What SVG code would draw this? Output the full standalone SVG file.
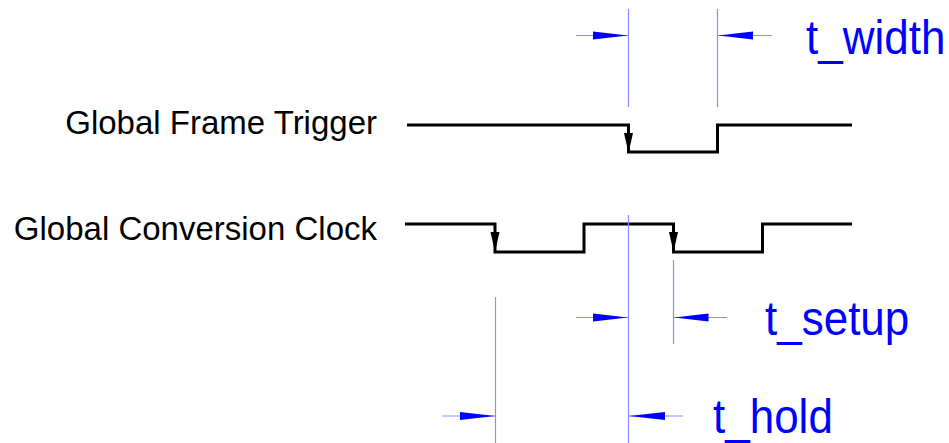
<svg xmlns="http://www.w3.org/2000/svg" width="949" height="443" viewBox="0 0 949 443">
<defs>
<style>
.lbl{font-family:"Liberation Sans",Arial,sans-serif;font-size:33px;fill:#000}
.dim{font-family:"Liberation Sans",Arial,sans-serif;font-size:44px;fill:#0000ff}
.sig{fill:none;stroke:#000;stroke-width:3}
.ext{stroke:#8c8cff;stroke-width:1.2;fill:none}
.ah{fill:#0000ff}
.sh{fill:#000}
</style>
</defs>
<rect width="949" height="443" fill="#fff"/>
<g id="label-frame"><text class="lbl" x="377" y="134" text-anchor="end">Global Frame Trigger</text></g>
<g id="label-clock"><text class="lbl" x="377" y="240" text-anchor="end">Global Conversion Clock</text></g>
<g id="signal-frame">
<polyline class="sig" points="407,125 628.5,125 628.5,152 717.5,152 717.5,125 852,125"/>
<polygon class="sh" points="624,133 633,133 628.5,153"/>
</g>
<g id="signal-clock">
<polyline class="sig" points="405,224 495,224 495,252 584,252 584,224 673.5,224 673.5,252 762.5,252 762.5,224 852,224"/>
<polygon class="sh" points="490.5,232 499.5,232 495,252"/>
<polygon class="sh" points="669,232 678,232 673.5,252"/>
</g>
<g id="connectors">
<line class="ext" x1="628.5" y1="9" x2="628.5" y2="107"/>
<line class="ext" x1="717.5" y1="9" x2="717.5" y2="107"/>
<line class="ext" x1="628.5" y1="215" x2="628.5" y2="443"/>
<line class="ext" x1="495.5" y1="297" x2="495.5" y2="443"/>
<line class="ext" x1="673.5" y1="260" x2="673.5" y2="344"/>
<line class="ext" x1="576" y1="35.5" x2="628" y2="35.5"/>
<polygon class="ah" points="593,31.5 628,35.5 593,39.5"/>
<line class="ext" x1="718" y1="35.5" x2="772" y2="35.5"/>
<polygon class="ah" points="753,31.5 718,35.5 753,39.5"/>
<line class="ext" x1="576" y1="317.5" x2="628" y2="317.5"/>
<polygon class="ah" points="593,313.5 628,317.5 593,321.5"/>
<line class="ext" x1="674" y1="317.5" x2="727" y2="317.5"/>
<polygon class="ah" points="708.5,313.5 674,317.5 708.5,321.5"/>
<line class="ext" x1="442" y1="416" x2="495" y2="416"/>
<polygon class="ah" points="460,412 495,416 460,420"/>
<line class="ext" x1="629" y1="416" x2="683" y2="416"/>
<polygon class="ah" points="665,412 629,416 665,420"/>
</g>
<g id="label-width" transform="translate(806,54) scale(1,1.11)"><text class="dim" x="0" y="0">t_width</text></g>
<g id="label-setup" transform="translate(765,335) scale(1,1.11)"><text class="dim" x="0" y="0">t_setup</text></g>
<g id="label-hold" transform="translate(713,433) scale(1,1.11)"><text class="dim" x="0" y="0">t_hold</text></g>
</svg>
